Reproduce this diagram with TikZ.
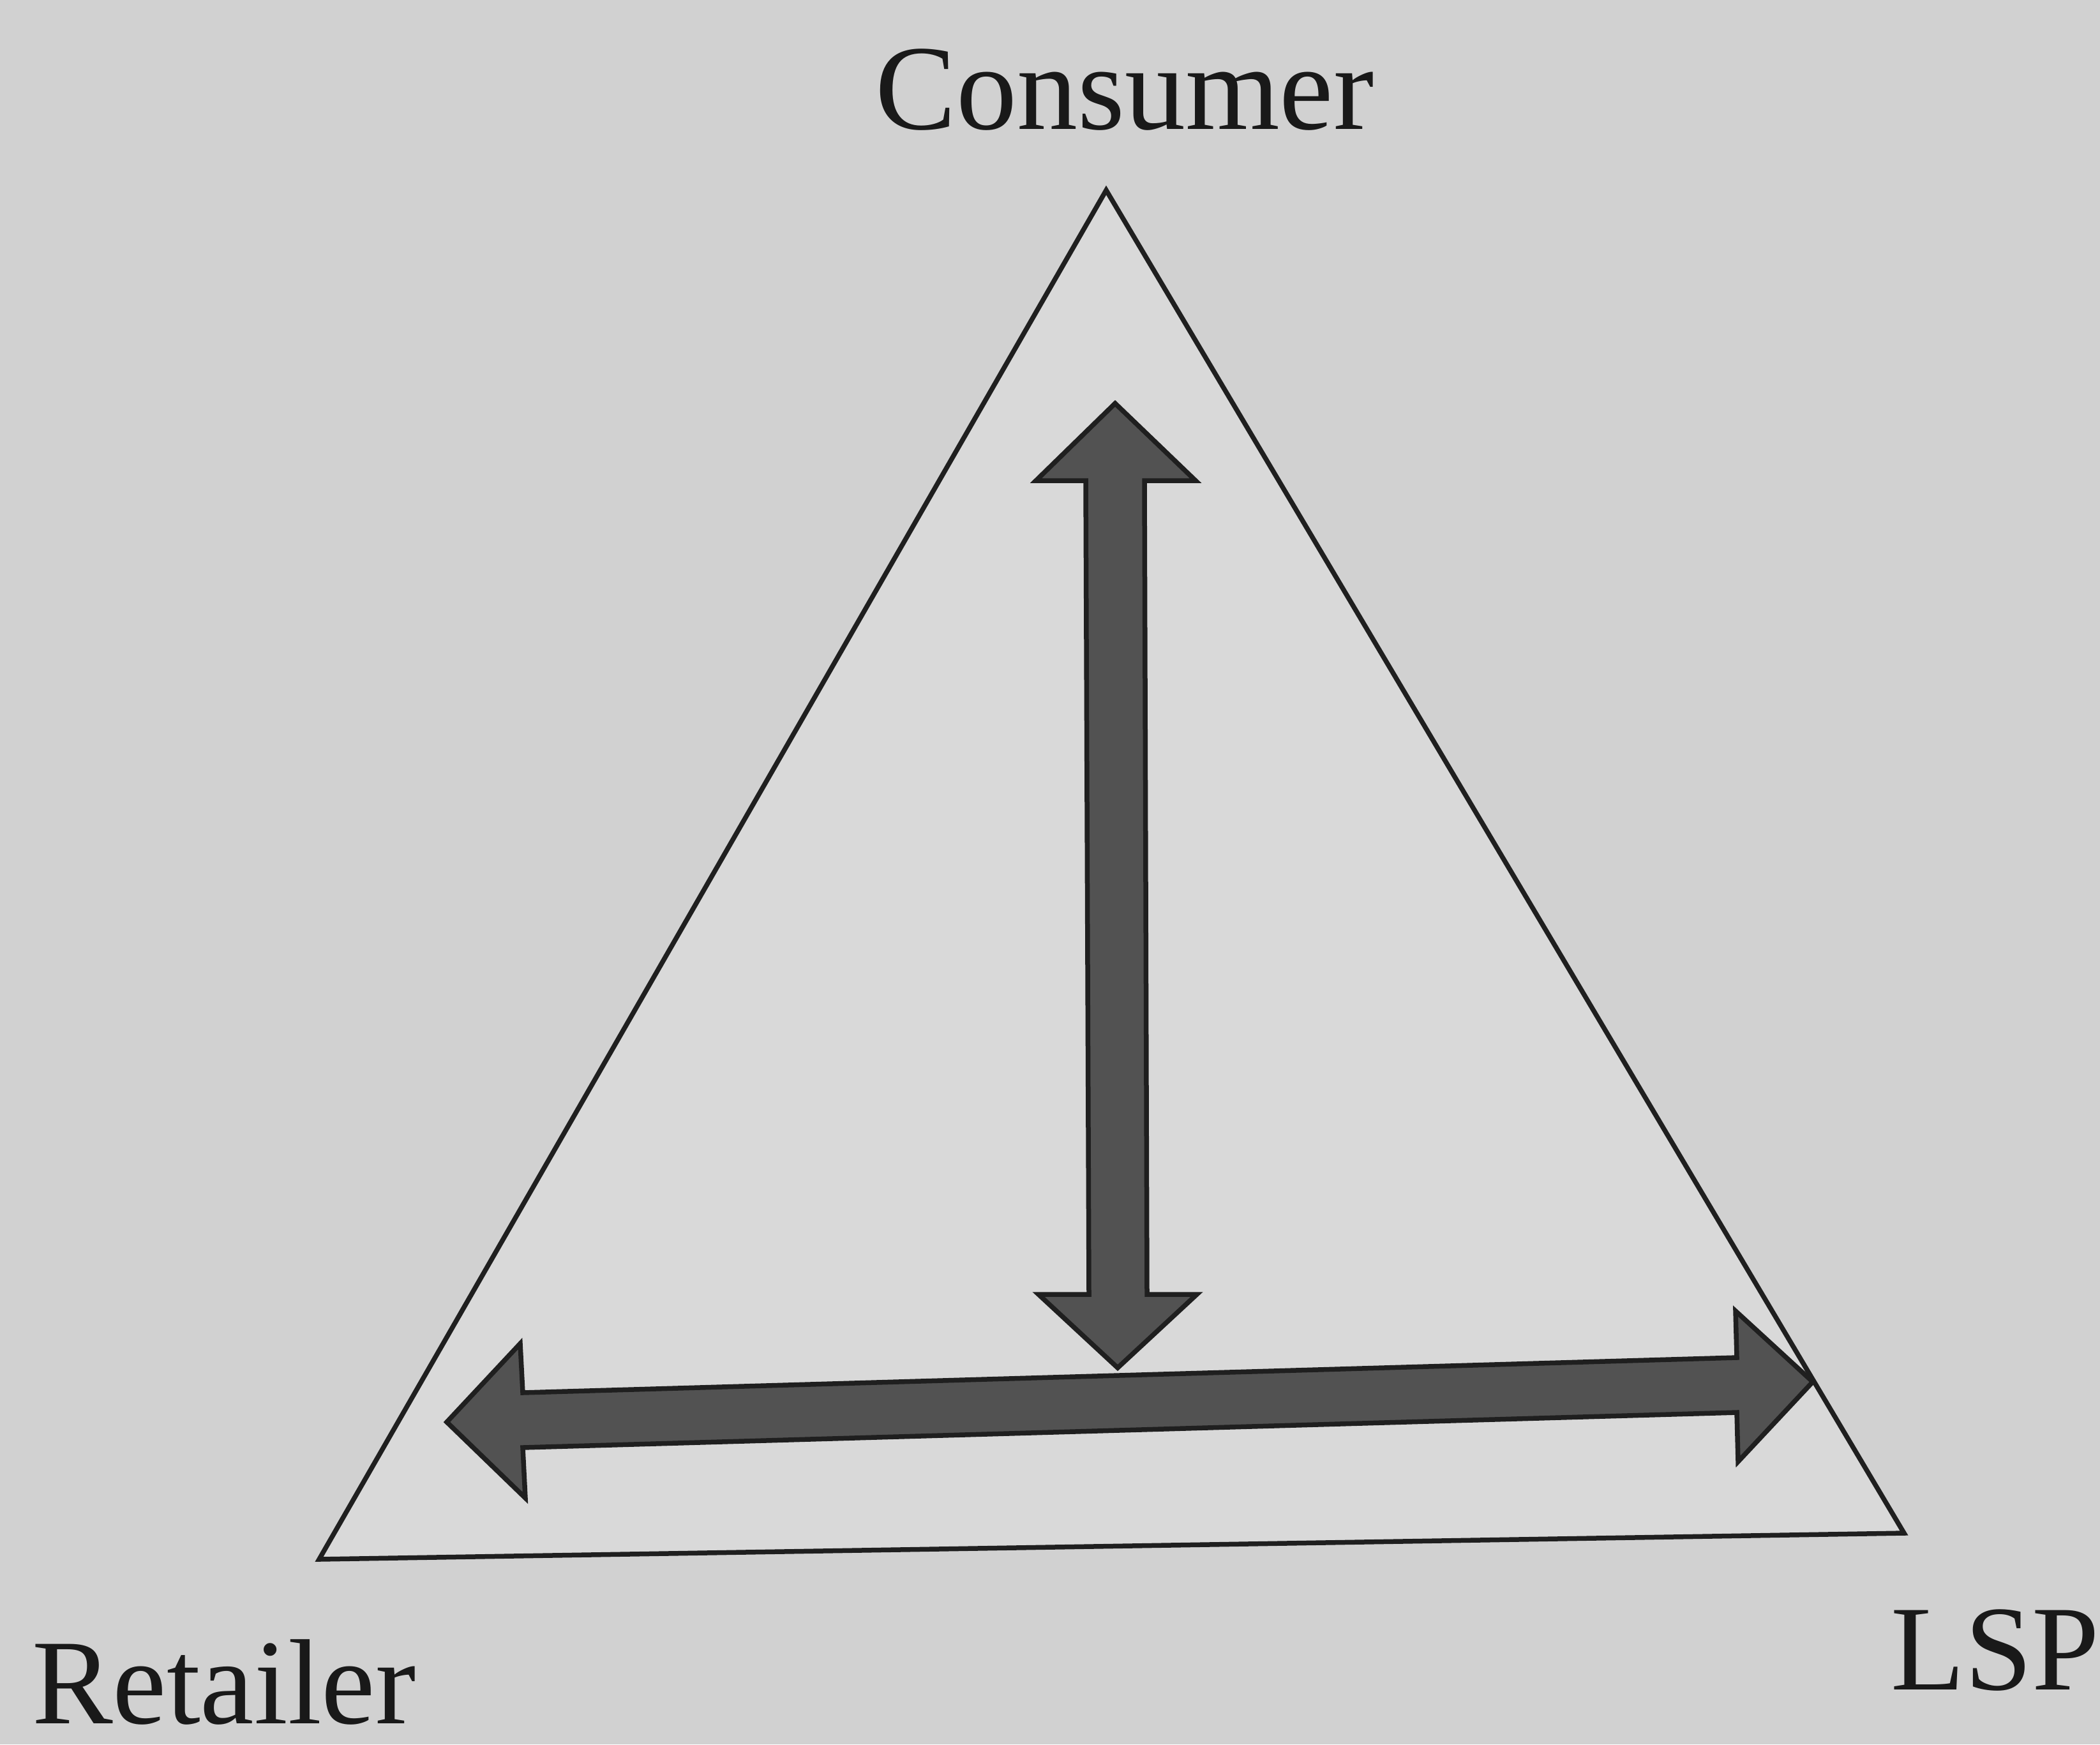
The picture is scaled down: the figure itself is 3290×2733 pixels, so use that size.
\documentclass[tikz,border=0pt]{standalone}
\usepackage{fontspec}
\setmainfont{Liberation Serif}
\begin{document}
\begin{tikzpicture}[x=0.2pt,y=-0.2pt,
  lbl/.style={inner sep=0pt,font=\fontsize{38}{46}\selectfont,text=black!90},
  tri/.style={draw=black!88,line width=1.5pt,line join=miter,fill=black!15},
  bigarrow/.style={draw=black!88,line width=1.5pt,line join=miter,fill=black!68}]
\useasboundingbox[fill=black!18] (0,0) rectangle (3290,2733);
% triangle
\coordinate (top) at (1733,298);
\coordinate (bl) at (500,2443);
\coordinate (br) at (2983,2402);
\draw[tri] (top) -- (bl) -- (br) -- cycle;
% vertical double arrow
\coordinate (vt) at (1747,632);
\coordinate (vb) at (1751,2143);
\draw[bigarrow] (vt) -- (1873,753) -- (1793,753) -- (1797,2028) -- (1875,2028)
  -- (vb) -- (1627,2028) -- (1706,2028) -- (1701,753) -- (1623,753) -- cycle;
% horizontal double arrow
\coordinate (hl) at (700,2228);
\coordinate (hr) at (2840,2165);
\draw[bigarrow] (hl) -- (815,2105) -- (819,2182) -- (2721,2127) -- (2719,2054)
  -- (hr) -- (2723,2290) -- (2721,2213) -- (819,2268) -- (823,2347) -- cycle;
% labels
\node[lbl,anchor=base] (consumer) at (1762,202) {Consumer};
\node[lbl,anchor=base west] (retailer) at (49,2700) {Retailer};
\node[lbl,anchor=base west] (lsp) at (2961,2647) {LSP};
\end{tikzpicture}
\end{document}
